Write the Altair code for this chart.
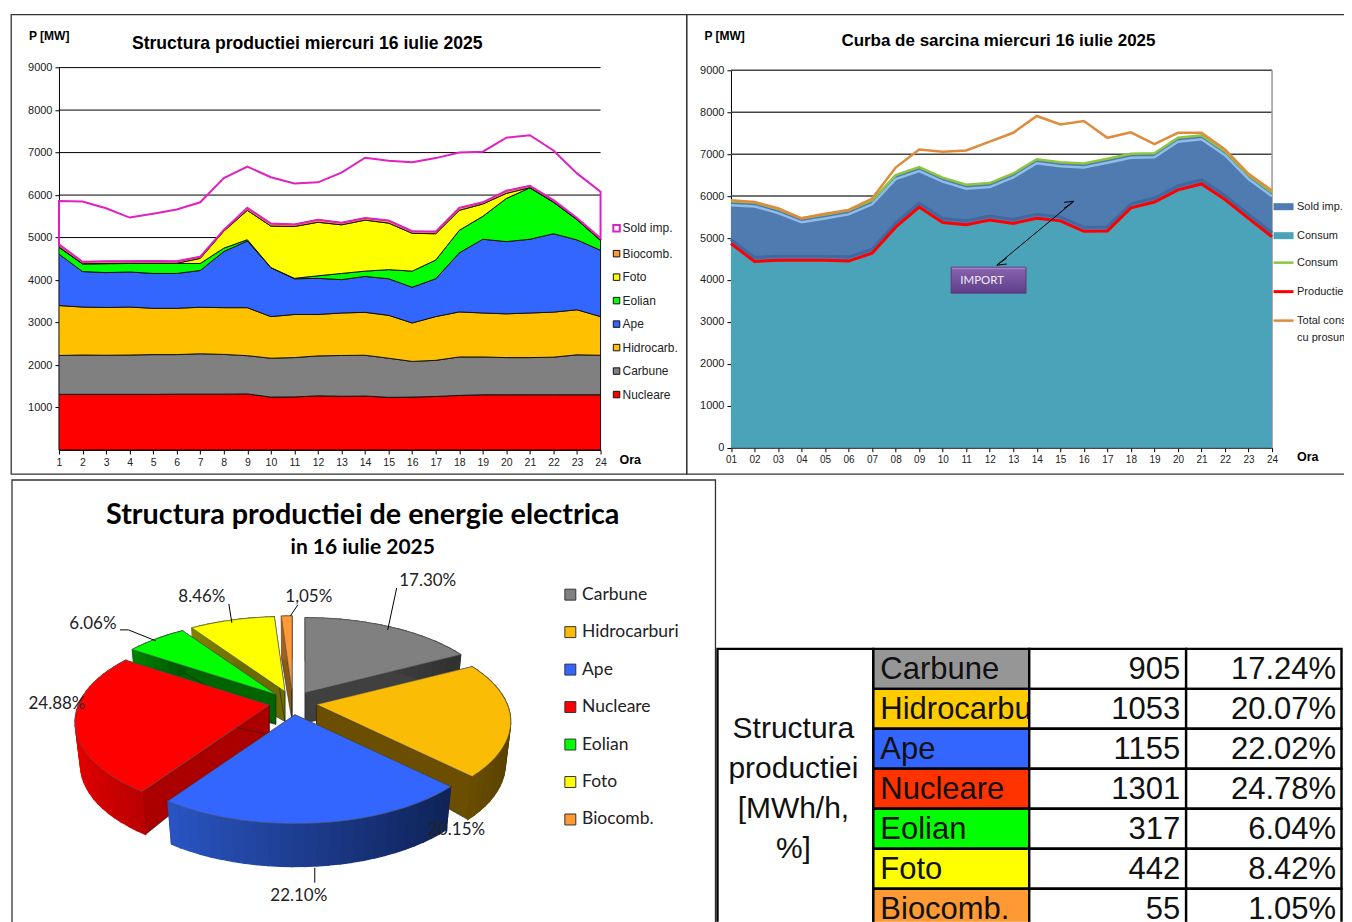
import math
import altair as alt
import pandas as pd

HOURS = list(range(1, 25))
# chart 1: cumulative tops of each band (MW)
NUCLEARE = [1310,1310,1310,1310,1310,1315,1315,1315,1320,1245,1250,1275,1265,1270,1240,1245,1260,1285,1300,1300,1300,1300,1300,1300]
CARBUNE = [2225,2235,2230,2235,2245,2245,2265,2250,2220,2160,2175,2215,2225,2230,2160,2085,2110,2190,2190,2175,2175,2185,2240,2230]
HIDRO = [3400,3365,3355,3365,3335,3335,3360,3350,3350,3140,3190,3190,3225,3240,3170,2990,3140,3250,3225,3205,3225,3245,3300,3140]
APE = [4610,4200,4175,4190,4155,4155,4225,4670,4920,4290,4030,4040,4010,4085,4030,3830,4030,4640,4960,4905,4960,5090,4945,4700]
EOLIAN = [4770,4380,4385,4390,4390,4390,4390,4750,4950,4295,4040,4100,4155,4210,4245,4210,4470,5170,5500,5920,6170,5830,5420,4930]
FOTO = [4780,4385,4390,4395,4395,4395,4510,5150,5640,5270,5260,5360,5300,5410,5340,5100,5090,5640,5790,6040,6175,5840,5430,4935]
BIOCOMB = [4840,4430,4440,4445,4450,4440,4550,5180,5700,5330,5310,5420,5350,5460,5400,5150,5140,5700,5830,6100,6220,5880,5460,4985]
SOLD = [5860,5850,5690,5470,5560,5660,5830,6400,6670,6420,6275,6300,6530,6880,6810,6775,6870,7000,7020,7350,7410,7050,6510,6080]
# chart 2
PRODUCTIE = [4870,4440,4470,4470,4470,4450,4640,5260,5740,5370,5320,5430,5350,5470,5410,5160,5170,5720,5860,6150,6290,5920,5470,5030]
CONSUM = [5880,5850,5690,5470,5560,5660,5900,6500,6690,6440,6270,6310,6540,6880,6810,6780,6890,7010,7020,7390,7450,7070,6500,6090]
TOTAL = [5900,5860,5710,5470,5580,5670,5940,6680,7110,7060,7090,7300,7510,7910,7710,7790,7390,7520,7240,7510,7510,7110,6530,6130]
# pie
PIE_NAMES = ["Carbune","Hidrocarburi","Ape","Nucleare","Eolian","Foto","Biocomb."]
PIE_PCT = [17.30,20.15,22.10,24.88,6.06,8.46,1.05]
PIE_TOP = ["#808080","#FBBC05","#3366FF","#FF0000","#00FF00","#FFFF00","#FF9933"]
PIE_CUT = ["#404040","#6B4E00","#1A3A90","#AA0000","#006400","#6B6B00","#8B5A10"]
PIE_WALL = [("#505050","#303030"),("#6B4E00","#5A4200"),("#2A55C4","#10245A"),("#E00000","#BB0000"),("#008000","#005000"),("#808000","#606000"),("#A06020","#805010")]
# table
T_NAMES = ["Carbune","Hidrocarburi","Ape","Nucleare","Eolian","Foto","Biocomb."]
T_VALUES = ["905","1053","1155","1301","317","442","55"]
T_PCT = ["17.24%","20.07%","22.02%","24.78%","6.04%","8.42%","1.05%"]
T_COLORS = ["#969696","#FFCC00","#3366FF","#FF3300","#00FF00","#FFFF00","#FF9933"]

SANS = "Liberation Sans"
ONE = pd.DataFrame({"a": [0]})
PANEL = alt.ViewBackground(stroke="#333333", strokeWidth=1.3)


def note(text, x, y, size=12, bold=True, font=SANS, align="left", color="black"):
    return alt.Chart(ONE).mark_text(
        font=font, fontSize=size, fontWeight="bold" if bold else "normal",
        align=align, baseline="middle", color=color,
    ).encode(x=alt.value(x), y=alt.value(y), text=alt.value(text))


def yaxis(offset, values):
    return alt.Axis(values=values, offset=offset, title=None, grid=False, labelFont=SANS, labelFontSize=11,
                    labelColor="#222222", domainColor="black", tickColor="black", tickSize=4, labelPadding=3,
                    format="d")


def xaxis(offset, fmt, size):
    return alt.Axis(values=HOURS, offset=offset, title=None, grid=False, labelFont=SANS, labelFontSize=size,
                    labelColor="#222222", domainColor="black", tickColor="black", tickSize=4, labelPadding=3,
                    format=fmt, labelAngle=0, labelFlush=False, labelOverlap=False)


# ---------- chart 1
W1, H1 = 676, 460
xs1 = alt.Scale(domain=[1, 24], range=[48, 590], nice=False, zero=False)
ys1 = alt.Scale(domain=[0, 9000], range=[436, 53.3], nice=False)
AX1 = xaxis(-24, "d", 10.5)
AY1 = yaxis(-48, list(range(1000, 10000, 1000)))
X1 = lambda f: alt.X(f, scale=xs1, axis=AX1)
Y1 = lambda f: alt.Y(f, scale=ys1, axis=AY1)
bands = [("Nucleare", [0]*24, NUCLEARE), ("Carbune", NUCLEARE, CARBUNE), ("Hidrocarb.", CARBUNE, HIDRO),
         ("Ape", HIDRO, APE), ("Eolian", APE, EOLIAN), ("Foto", EOLIAN, FOTO), ("Biocomb.", FOTO, BIOCOMB),
         ("Sold imp.", BIOCOMB, SOLD)]
rows = []
for name, lo, hi in bands:
    for h, a, b in zip(HOURS, lo, hi):
        rows.append({"ora": h, "lo": a, "hi": b, "serie": name})
df1 = pd.DataFrame(rows)
dom1 = ["Sold imp.", "Biocomb.", "Foto", "Eolian", "Ape", "Hidrocarb.", "Carbune", "Nucleare"]
fill1 = ["transparent", "#FF9933", "#FFFF00", "#00FF00", "#3366FF", "#FFC000", "#808080", "#FF0000"]
stroke1 = ["#E020C0"] + ["#111111"]*7
leg1 = alt.Legend(orient="none", legendX=600, legendY=208, title=None, symbolType="square", symbolSize=42,
                  symbolStrokeWidth=1, labelFont=SANS, labelFontSize=12, labelColor="#222222", rowPadding=11.5,
                  labelOffset=0, padding=0)
gridv = pd.DataFrame({"v": list(range(1000, 10000, 1000)), "x0": 1, "x1": 24})
grid1 = alt.Chart(gridv).mark_rule(color="black", strokeWidth=1).encode(
    x=X1("x0:Q"), x2="x1:Q", y=Y1("v:Q"))
area1 = alt.Chart(df1).mark_area(interpolate="linear").encode(
    x=X1("ora:Q"), y=Y1("lo:Q"), y2="hi:Q",
    fill=alt.Fill("serie:N", scale=alt.Scale(domain=dom1, range=fill1), legend=leg1),
    stroke=alt.Stroke("serie:N", scale=alt.Scale(domain=dom1, range=stroke1), legend=leg1),
    strokeWidth=alt.StrokeWidth("serie:N", scale=alt.Scale(type="ordinal", domain=dom1, range=[2]+[1]*7), legend=None),
)
panel1 = alt.layer(
    grid1, area1,
    note("P [MW]", 18, 22, 12),
    note("Structura productiei miercuri 16 iulie 2025", 121, 30, 17.6),
    note("Ora", 609, 446, 12.5),
).properties(width=W1, height=H1, view=PANEL)

# ---------- chart 2
W2, H2 = 665, 460
xs2 = alt.Scale(domain=[1, 24], range=[44.5, 586], nice=False, zero=False)
ys2 = alt.Scale(domain=[0, 9000], range=[433.7, 56], nice=False)
AX2 = xaxis(-26.3, "02d", 10)
AY2 = yaxis(-44.5, list(range(0, 10000, 1000)))
X2 = lambda f: alt.X(f, scale=xs2, axis=AX2)
Y2 = lambda f: alt.Y(f, scale=ys2, axis=AY2)
df2 = pd.DataFrame({"ora": HOURS, "zero": 0, "prod": PRODUCTIE, "cons": CONSUM, "total": TOTAL})
dom2 = ["Sold imp.", "Consum", "Consum ", "Productie", "Total cons"]
col2 = ["#4F7BB0", "#4BA3BA", "#8CC63F", "#FF0000", "#E08A3C"]
wid2 = [7, 7, 2.5, 3, 2.5]
long2 = pd.DataFrame(
    [{"ora": h, "v": v, "serie": "Consum "} for h, v in zip(HOURS, CONSUM)] +
    [{"ora": h, "v": v, "serie": "Total cons"} for h, v in zip(HOURS, TOTAL)] +
    [{"ora": h, "v": v, "serie": "Productie"} for h, v in zip(HOURS, PRODUCTIE)])
leg2 = alt.Legend(orient="none", legendX=584, legendY=179, title=None, symbolType="stroke", symbolSize=400,
                  labelFont=SANS, labelFontSize=11, labelColor="#222222", rowPadding=0, labelOffset=0, padding=0,
                  labelBaseline="middle", gridAlign="all")
grid2 = alt.Chart(pd.DataFrame({"v": list(range(0, 10000, 1000)), "x0": 1, "x1": 24})).mark_rule(
    color="#444444", strokeWidth=1.5).encode(x=X2("x0:Q"), x2="x1:Q", y=Y2("v:Q"))
edge2 = alt.Chart(pd.DataFrame({"x0": [24], "a": [0], "b": [9000]})).mark_rule(color="#999999", strokeWidth=1.5).encode(
    x=X2("x0:Q"), y=Y2("a:Q"), y2="b:Q")
blue = alt.Chart(df2).mark_area(color="#4F7BB0").encode(x=X2("ora:Q"), y=Y2("prod:Q"), y2="cons:Q")
teal = alt.Chart(df2).mark_area(color="#4BA3BA").encode(x=X2("ora:Q"), y=Y2("zero:Q"), y2="prod:Q")
bevel = alt.Chart(df2).mark_line(color="#8FBCE8", strokeWidth=2.5, yOffset=4).encode(x=X2("ora:Q"), y=Y2("cons:Q"))
bevel2 = alt.Chart(df2).mark_line(color="#4069A0", strokeWidth=3, yOffset=-4).encode(x=X2("ora:Q"), y=Y2("prod:Q"))
lines2 = alt.Chart(long2).mark_line().encode(
    x=X2("ora:Q"), y=Y2("v:Q"),
    color=alt.Color("serie:N", scale=alt.Scale(domain=dom2, range=col2), legend=leg2),
    strokeWidth=alt.StrokeWidth("serie:N", scale=alt.Scale(type="ordinal", domain=dom2, range=wid2), legend=leg2),
)
box = alt.Chart(pd.DataFrame({"a": [10.36], "b": [13.54], "c": [3686], "d": [4305]})).mark_rect(
    stroke="#5A3A7A", strokeWidth=1,
    color=alt.Gradient(gradient="linear", x1=0, y1=0, x2=0, y2=1,
                       stops=[alt.GradientStop(offset=0, color="#C9A4EA"), alt.GradientStop(offset=0.1, color="#8560AA"),
                              alt.GradientStop(offset=1, color="#5F3F8A")])).encode(
    x=X2("a:Q"), x2="b:Q", y=Y2("c:Q"), y2="d:Q")
arrow = alt.Chart(pd.DataFrame({
    "ora": [15.58, 12.3, 12.72, 12.3, 12.72, 15.58, 15.16, 15.58, 15.16],
    "v": [5878, 4353, 4380, 4353, 4520, 5878, 5851, 5878, 5711],
    "k": ["a", "a", "b", "b", "b", "c", "c", "d", "d"],
    "i": range(9)})).mark_line(color="black", strokeWidth=1).encode(
    x=X2("ora:Q"), y=Y2("v:Q"), detail="k:N", order="i:Q")
panel2 = alt.layer(
    grid2, edge2, blue, teal, bevel, bevel2, lines2, arrow, box,
    note("IMPORT", 274, 267, 11.5, bold=False, font="Lato", color="#F0E8F8"),
    note("P [MW]", 18, 22, 12),
    note("Curba de sarcina miercuri 16 iulie 2025", 155, 27, 17),
    note("Ora", 611, 443, 12.5),
    note("cu prosum", 611, 324, 11, bold=False, color="#222222"),
).properties(width=W2, height=H2, view=PANEL)

# ---------- pie (screen-like coordinate units through the panel's scales)
W3, H3 = 676, 442
xs3 = alt.Scale(domain=[11, 687], range=[0, W3], nice=False, zero=False)
ys3 = alt.Scale(domain=[480, 922], range=[0, H3], nice=False, zero=False)
R, TILT, PERSP, DEPTH, APEX_DEPTH, SHRINK = 191.0, 0.465, 0.185, 43.0, 30.0, 0.972
CX, CY, EXPL = 293.0, 703.0, 24.0


def rim(cx, cy, deg):
    t = math.radians(deg)
    p = 1 / (1 + PERSP * math.cos(t))
    return cx + R * math.sin(t) * p, cy - R * TILT * math.cos(t) * p


def lerp(a, b, f):
    ca = [int(a[i:i+2], 16) for i in (1, 3, 5)]
    cb = [int(b[i:i+2], 16) for i in (1, 3, 5)]
    return "#%02x%02x%02x" % tuple(round(u + (v - u) * f) for u, v in zip(ca, cb))


slices = []
start = 0.0
for i, pct in enumerate(PIE_PCT):
    sweep = pct * 3.6
    slices.append((i, start, start + sweep))
    start += sweep
polys, pid = [], 0


def add_poly(pts, fill, stroke, sw):
    global pid
    for v, (x, y) in enumerate(pts):
        polys.append({"pid": pid, "v": v, "x": x, "y": y, "fill": fill, "stroke": stroke, "sw": sw})
    pid += 1


for i, a, b in sorted(slices, key=lambda s: -math.cos(math.radians((s[1] + s[2]) / 2))):
    mid = math.radians((a + b) / 2)
    ax, ay = CX + EXPL * math.sin(mid), CY - EXPL * 0.5 * math.cos(mid)
    low = lambda q: (ax + (q[0] - ax) * SHRINK, q[1] + DEPTH)
    for deg in (a, b):
        q = rim(ax, ay, deg)
        add_poly([(ax, ay), q, low(q), (ax, ay + APEX_DEPTH)], PIE_CUT[i], "#222222", 0.6)
    n = max(2, int((b - a) / 3))
    arc = [rim(ax, ay, a + (b - a) * k / n) for k in range(n + 1)]
    left, right = min(p[0] for p in arc), max(p[0] for p in arc)
    for k in range(n):
        f = (arc[k][0] - left) / max(right - left, 1)
        c = lerp(PIE_WALL[i][0], PIE_WALL[i][1], f)
        add_poly([arc[k], arc[k + 1], low(arc[k + 1]), low(arc[k])], c, c, 1.2)
    add_poly([(ax, ay)] + arc, PIE_TOP[i], "#555555", 0.6)
dfp = pd.DataFrame(polys)
pie = alt.Chart(dfp).mark_line(interpolate="linear-closed").encode(
    x=alt.X("x:Q", scale=xs3, axis=None), y=alt.Y("y:Q", scale=ys3, axis=None),
    detail="pid:N", order="v:Q",
    fill=alt.Fill("fill:N", scale=None), stroke=alt.Stroke("stroke:N", scale=None),
    strokeWidth=alt.StrokeWidth("sw:Q", scale=None))
leg3 = alt.Legend(orient="none", legendX=551, legendY=106, title=None, symbolType="square", symbolSize=120,
                  symbolStrokeColor="#333333", symbolStrokeWidth=1, symbolOpacity=1, labelFont="Lato", labelFontSize=17.5,
                  labelColor="#222222", rowPadding=18.5, labelOffset=3, padding=0)
pleg = alt.Chart(pd.DataFrame({"s": PIE_NAMES, "x": CX, "y": CY})).mark_square(size=0, opacity=1).encode(
    x=alt.X("x:Q", scale=xs3, axis=None), y=alt.Y("y:Q", scale=ys3, axis=None),
    color=alt.Color("s:N", scale=alt.Scale(domain=PIE_NAMES, range=PIE_TOP), legend=leg3))
plab = pd.DataFrame({
    "t": ["17.30%", "8.46%", "1,05%", "6.06%", "24.88%", "22.10%", "20.15%"],
    "x": [428, 202, 309, 93, 57, 299, 457], "y": [581, 597, 597, 624, 704, 896, 830]})
ptext = alt.Chart(plab).mark_text(font="Lato", fontSize=17, color="#222222").encode(
    x=alt.X("x:Q", scale=xs3, axis=None), y=alt.Y("y:Q", scale=ys3, axis=None), text="t:N")
lead = pd.DataFrame({
    "k": [1, 1, 2, 2, 3, 3, 4, 4, 4, 5, 5],
    "i": range(11),
    "x": [397, 388, 229, 232, 298, 290.6, 120, 128.5, 156, 315, 315],
    "y": [588, 630, 604, 623, 605, 616, 630, 630, 641, 868, 883]})
leader = alt.Chart(lead).mark_line(color="black", strokeWidth=1).encode(
    x=alt.X("x:Q", scale=xs3, axis=None), y=alt.Y("y:Q", scale=ys3, axis=None), detail="k:N", order="i:Q")
frame = alt.Chart(pd.DataFrame({"a": [12], "b": [716], "c": [480], "d": [924]})).mark_rect(
    fill="white", stroke="#333333", strokeWidth=1.3).encode(
    x=alt.X("a:Q", scale=xs3, axis=None), x2="b:Q", y=alt.Y("c:Q", scale=ys3, axis=None), y2="d:Q")
panel3 = alt.layer(
    frame, pie, leader, ptext, pleg,
    note("Structura productiei de energie electrica", 352, 35, 28.8, font="Lato", align="center"),
    note("in 16 iulie 2025", 352, 68, 21, font="Lato", align="center"),
).properties(width=W3, height=H3, view=alt.ViewBackground(stroke=None))

# ---------- table
W4, H4 = 665, 442
xs4 = alt.Scale(domain=[687, 1352], range=[0, W4], nice=False, zero=False)
ys4 = alt.Scale(domain=[480, 922], range=[0, H4], nice=False, zero=False)
COLS = [874, 1030, 1187, 1342.5]
ROWS = [649, 689, 729, 769, 809, 849, 889, 929]
n = len(T_NAMES)
name_cells = pd.DataFrame({"a": [COLS[0]]*n, "b": [COLS[1]]*n, "c": ROWS[:-1], "d": ROWS[1:], "f": T_COLORS})
val_cells = pd.DataFrame({"a": [COLS[1]]*n + [COLS[2]]*n, "b": [COLS[2]]*n + [COLS[3]]*n,
                          "c": ROWS[:-1]*2, "d": ROWS[1:]*2, "f": ["white"]*2*n})
merged = pd.DataFrame({"a": [718], "b": [COLS[0]], "c": [ROWS[0]], "d": [ROWS[-1]], "f": ["white"]})


def cells(d):
    return alt.Chart(d).mark_rect(stroke="black", strokeWidth=2.4, clip=True).encode(
        x=alt.X("a:Q", scale=xs4, axis=None), x2="b:Q", y=alt.Y("c:Q", scale=ys4, axis=None), y2="d:Q",
        fill=alt.Fill("f:N", scale=None))


def col_text(labels, x, align):
    d = pd.DataFrame({"t": labels, "x": x, "y": [r + 21 for r in ROWS[:-1]]})
    return alt.Chart(d).mark_text(font="Liberation Sans", fontSize=31, align=align, baseline="middle",
                                  color="#111111", clip=True).encode(
        x=alt.X("x:Q", scale=xs4, axis=None), y=alt.Y("y:Q", scale=ys4, axis=None), text="t:N")


side = pd.DataFrame({"t": ["Structura", "productiei", "[MWh/h,", "%]"], "x": 794, "y": [729, 769, 809, 849]})
side_t = alt.Chart(side).mark_text(font="Liberation Sans", fontSize=30, color="#111111").encode(
    x=alt.X("x:Q", scale=xs4, axis=None), y=alt.Y("y:Q", scale=ys4, axis=None), text="t:N")
panel4 = alt.layer(
    cells(merged), cells(name_cells), col_text(T_NAMES, 881, "left"), cells(val_cells),
    col_text(T_VALUES, 1181, "right"), col_text(T_PCT, 1337, "right"), side_t,
).properties(width=W4, height=H4, view=alt.ViewBackground(stroke=None))

chart = alt.concat(panel1, panel2, panel3, panel4, columns=2).resolve_scale(
    color="independent", fill="independent", stroke="independent", strokeWidth="independent",
).properties(
    align="none", bounds="flush", spacing={"row": 6, "column": 0},
    padding={"left": 2, "top": 5, "right": -8, "bottom": 0}, background="white")
chart.save("out.html", embed_options={"renderer": "svg", "actions": False})
